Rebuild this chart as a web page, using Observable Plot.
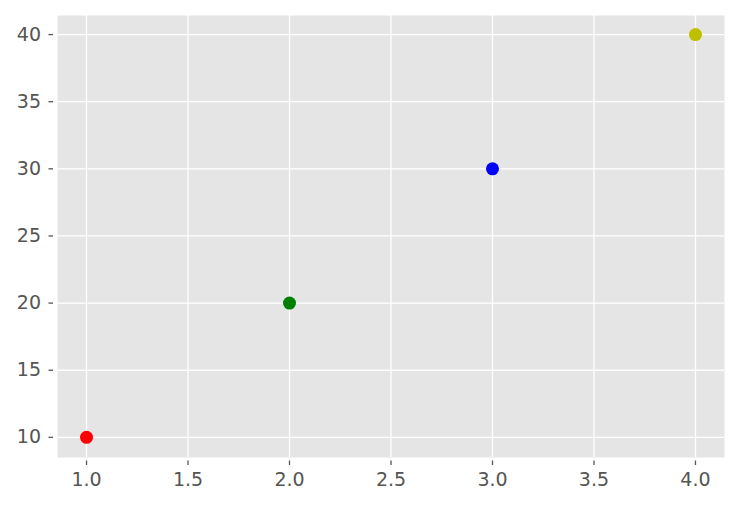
<!DOCTYPE html>
<html><head><meta charset="utf-8">
<script src="https://cdn.jsdelivr.net/npm/d3@7"></script>
<script src="https://cdn.jsdelivr.net/npm/@observablehq/plot@0.6"></script>
<style>body{margin:0;background:#fff}</style>
</head><body><div id="chart"></div>
<script>
const xs = [1, 2, 3, 4];
const ys = [10, 20, 30, 40];
const colors = ["#ff0000", "#008000", "#0000ff", "#bfbf00"];
const xTicks = [1.0, 1.5, 2.0, 2.5, 3.0, 3.5, 4.0];
const yTicks = [10, 15, 20, 25, 30, 35, 40];

const data = xs.map((x, i) => ({x, y: ys[i], c: colors[i]}));

const chart = Plot.plot({
  width: 739, height: 505,
  marginLeft: 57, marginRight: 15, marginTop: 15, marginBottom: 48,
  style: {fontFamily: "DejaVu Sans", fontSize: "19px", color: "#555", background: "#fff"},
  x: {domain: [0.857, 4.143]},
  y: {domain: [8.5, 41.42]},
  marks: [
    Plot.frame({fill: "#e5e5e5", stroke: null}),
    Plot.ruleX(xTicks, {stroke: "#fff", strokeWidth: 1.3}),
    Plot.ruleY(yTicks, {stroke: "#fff", strokeWidth: 1.3}),
    Plot.axisX(xTicks, {tickSize: 4.5, tickPadding: 7, dy: 3.5, strokeWidth: 1.3, tickFormat: d3.format(".1f"), label: null, stroke: "#555", fill: "#555", fontSize: 19}),
    Plot.axisY(yTicks, {tickSize: 4.5, tickPadding: 8, dx: -4, strokeWidth: 1.3, tickFormat: d => d, label: null, stroke: "#555", fill: "#555", fontSize: 19}),
    Plot.dot(data, {x: "x", y: "y", fill: d => d.c, r: 6.5, stroke: null})
  ]
});
document.getElementById("chart").append(chart);
</script></body></html>
